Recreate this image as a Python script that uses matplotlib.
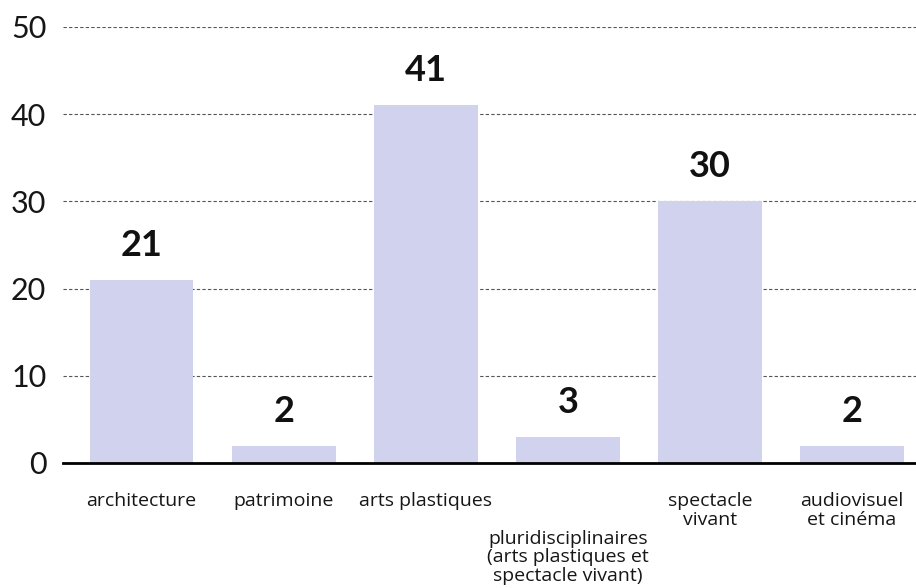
import matplotlib
matplotlib.use("Agg")
from matplotlib import pyplot as plt

# Data
categories = [
    "architecture",
    "patrimoine",
    "arts plastiques",
    "pluridisciplinaires\n(arts plastiques et\nspectacle vivant)",
    "spectacle\nvivant",
    "audiovisuel\net cinéma",
]
values = [21, 2, 41, 3, 30, 2]
y_ticks = [0, 10, 20, 30, 40, 50]
# categories whose label sits on the lower row
lowered = [3]

plt.rcParams["font.family"] = ["Lato", "DejaVu Sans"]

fig = plt.figure(figsize=(9.16, 5.88), dpi=100)
ax = fig.add_axes([63 / 916, 1 - 463 / 588, 1 - 63 / 916, (463 - 27) / 588])

x = list(range(len(categories)))
bars = ax.bar(x, values, width=0.73, color="#d1d3ee", zorder=2)

for xi, v in zip(x, values):
    ax.annotate(
        f"{v}",
        (xi, v),
        xytext=(0, 13),
        textcoords="offset points",
        ha="center",
        va="bottom",
        fontsize=26,
        fontweight="bold",
        color="#111111",
    )

ax.set_xlim(-0.553, 5.45)
ax.set_ylim(0, 50)
ax.set_yticks(y_ticks)
ax.set_yticklabels([str(t) for t in y_ticks], fontsize=22, color="#161616")
ax.tick_params(axis="y", length=0, pad=12)
ax.set_xticks([])

for xi, label in zip(x, categories):
    y_off = -48 if xi in lowered else -21
    ax.annotate(
        label,
        (xi, 0),
        xytext=(0, y_off),
        textcoords="offset points",
        ha="center",
        va="top",
        fontsize=14,
        color="#161616",
        linespacing=1.05,
        family=["Open Sans", "DejaVu Sans"],
    )

ax.grid(axis="y", linestyle=(0, (3, 2)), color="#555555", linewidth=0.8, zorder=0)
for side in ["top", "right", "left"]:
    ax.spines[side].set_visible(False)
ax.spines["bottom"].set_linewidth(2)
ax.spines["bottom"].set_color("black")
ax.spines["bottom"].set_zorder(3)

plt.savefig("out.png", dpi=100)
